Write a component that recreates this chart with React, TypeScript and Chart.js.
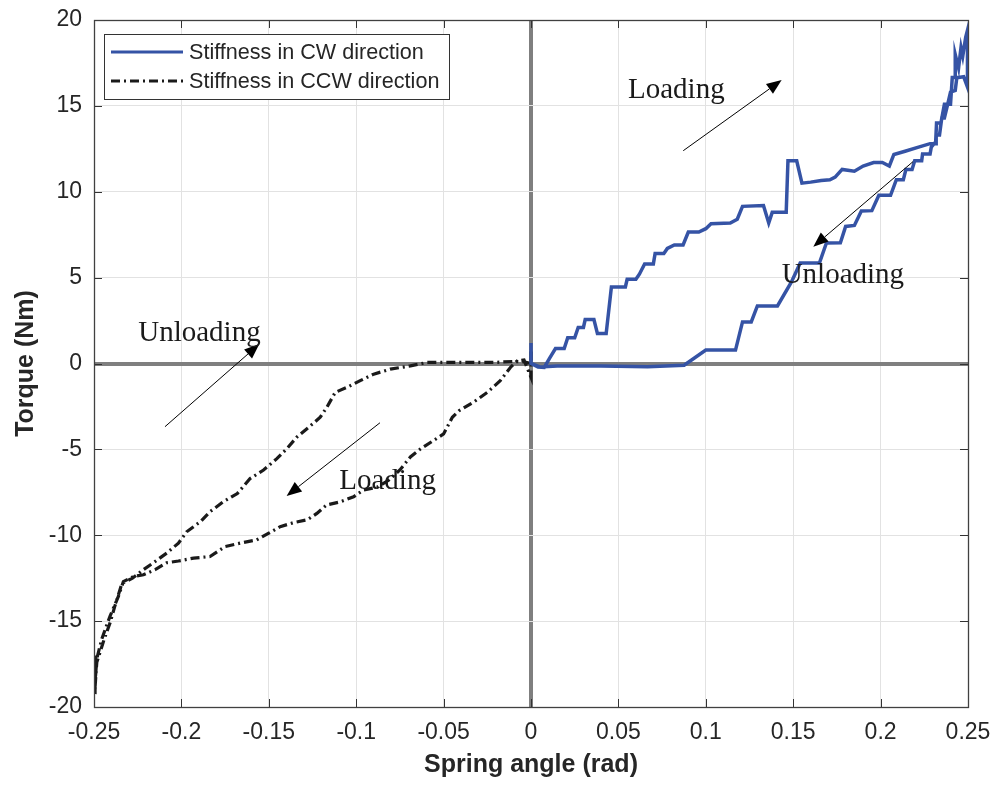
import { useEffect, useRef } from "react";
import { Chart, registerables } from "chart.js";

Chart.register(...registerables);

// ---- data ----
const cwAngle = [
  0, 0, 0.004, 0.0076, 0.0105, 0.014, 0.019, 0.021, 0.025, 0.027, 0.03, 0.031, 0.036, 0.038, 0.043,
  0.046, 0.054, 0.055, 0.06, 0.062, 0.065, 0.07, 0.071, 0.076, 0.078, 0.082, 0.087, 0.09, 0.096,
  0.1, 0.103, 0.114, 0.118, 0.121, 0.133, 0.136, 0.138, 0.146, 0.147, 0.152, 0.155, 0.16, 0.166,
  0.171, 0.174, 0.178, 0.185, 0.19, 0.196, 0.201, 0.205, 0.2076, 0.214, 0.2217, 0.2283, 0.2318,
  0.2318, 0.2337, 0.235, 0.2365, 0.2384, 0.24, 0.241, 0.2427, 0.2427, 0.2446, 0.246, 0.247, 0.2487,
  0.2497, 0.2497,
  // unloading
  0.2475, 0.2446, 0.2436, 0.2427, 0.24, 0.2384, 0.2365, 0.2345, 0.232, 0.2315, 0.229, 0.2283,
  0.224, 0.2235, 0.2195, 0.218, 0.2145, 0.213, 0.209, 0.2057, 0.199, 0.195, 0.189, 0.185, 0.18,
  0.177, 0.169, 0.165, 0.154, 0.149, 0.141, 0.1295, 0.126, 0.121, 0.117, 0.1, 0.0876, 0.0667,
  0.04, 0.015, 0.005, 0,
];
const cwTorque = [
  1.2, 0, -0.2, -0.23, 0.29, 0.87, 0.87, 1.5, 1.5, 2.1, 2.1, 2.56, 2.56, 1.74, 1.74,
  4.46, 4.46, 4.9, 4.9, 5.2, 5.8, 5.8, 6.4, 6.4, 6.7, 6.9, 6.9, 7.65, 7.65,
  7.85, 8.14, 8.18, 8.4, 9.15, 9.2, 8.18, 8.8, 8.8, 11.8, 11.8, 10.5, 10.56, 10.66,
  10.7, 10.85, 11.3, 11.2, 11.5, 11.7, 11.7, 11.5, 12.17, 12.36, 12.6, 12.8, 12.8,
  13.3, 13.3, 14.3, 14.3, 15.1, 15.1, 16.65, 16.65, 18.0, 17.2, 18.4, 17.9, 19.0,
  19.4, 16.1,
  16.7, 16.65, 16.65, 15.9, 15.8, 15.1, 15.1, 14.0, 14.0, 12.9, 12.6, 12.2,
  12.2, 11.8, 11.8, 11.3, 11.3, 10.7, 10.7, 9.79, 9.79, 8.9, 8.88, 8.04, 7.98,
  7.03, 7.02, 5.85, 5.85, 4.75, 3.35, 3.35, 2.42, 2.42, 0.78, 0.78, -0.1, -0.19,
  -0.15, -0.15, -0.2, 0,
];

const ccwAngle = [
  0, 0, -0.004, -0.008, -0.0118, -0.0176, -0.025, -0.033, -0.041, -0.045, -0.05, -0.0557, -0.063,
  -0.069, -0.075, -0.0815, -0.088, -0.096, -0.1015, -0.109, -0.117, -0.1225, -0.128, -0.136,
  -0.1435, -0.15, -0.157, -0.1664, -0.175, -0.1836, -0.193, -0.2017, -0.2084, -0.215, -0.2217,
  -0.2274, -0.2332, -0.236, -0.2408, -0.2456, -0.2484, -0.2494, -0.2494, -0.249, -0.2497,
  // unloading
  -0.2484, -0.244, -0.2408, -0.238, -0.234, -0.228, -0.2217, -0.216, -0.2084, -0.2017, -0.197,
  -0.189, -0.1836, -0.176, -0.168, -0.1607, -0.153, -0.1454, -0.1397, -0.134, -0.127, -0.1206,
  -0.1168, -0.112, -0.1053, -0.0977, -0.09, -0.0805, -0.069, -0.0595, -0.0405, -0.0214, -0.01,
  -0.004, 0,
];
const ccwTorque = [
  0.7, -0.8, 0.2, 0.15, -0.23, -1.0, -1.68, -2.26, -2.74, -3.13, -4.1, -4.48, -4.96,
  -5.44, -6.2, -6.8, -7.2, -7.37, -7.76, -8.05, -8.24, -8.73, -9.1, -9.27,
  -9.5, -9.88, -10.27, -10.46, -10.66, -11.24, -11.33, -11.5, -11.6, -12.0, -12.3,
  -12.4, -12.7, -13.55, -14.7, -16.06, -17.2, -18.6, -19.25, -17.0, -19.3,
  -17.4, -16.0, -15.1, -14.1, -12.8, -12.5, -12.0, -11.6, -11.04, -10.46, -9.8,
  -9.2, -8.63, -8.05, -7.57, -6.7, -6.2, -5.54, -4.96, -4.29, -3.7, -3.13,
  -2.55, -1.68, -1.39, -1.0, -0.62, -0.33, -0.14, 0.06, 0.06, 0.06, 0.12,
  0.1, 0,
];

const xTicks = [-0.25, -0.2, -0.15, -0.1, -0.05, 0, 0.05, 0.1, 0.15, 0.2, 0.25];
const yTicks = [-20, -15, -10, -5, 0, 5, 10, 15, 20];
const seriesLabels = ["Stiffness in CW direction", "Stiffness in CCW direction"];
const axisTitles = ["Spring angle (rad)", "Torque (Nm)"];

// annotations: text with anchor, arrow tail -> tip (data units)
const noteTexts = ["Loading", "Unloading", "Unloading", "Loading"];
const noteX = [0.0555, 0.1434, -0.2247, -0.1097];
const noteY = [15.44, 4.67, 1.33, -7.32];
const arrowFrom = [[0.0871, 12.39], [0.2185, 11.75], [-0.2094, -3.68], [-0.0864, -3.45]];
const arrowTo = [[0.1434, 16.5], [0.1615, 6.8], [-0.1554, 1.135], [-0.1398, -7.71]];

const BLUE = "#3553a5";
const BLACK = "#1a1a1a";
const TEXT = "#262626";
const SANS = "'Liberation Sans', Arial, Helvetica, sans-serif";
const SERIF = "'Liberation Serif', 'Times New Roman', Times, serif";

const overlay = {
  id: "overlay",
  afterDatasetsDraw(chart: any) {
    const { ctx, chartArea: a, scales } = chart;
    const xs = scales.x;
    const ys = scales.y;
    ctx.save();

    // inner ticks
    ctx.strokeStyle = "#333";
    ctx.lineWidth = 1;
    ctx.beginPath();
    xTicks.forEach((v) => {
      const px = Math.round(xs.getPixelForValue(v)) + 0.5;
      ctx.moveTo(px, a.bottom);
      ctx.lineTo(px, a.bottom - 8);
      ctx.moveTo(px, a.top);
      ctx.lineTo(px, a.top + 8);
    });
    yTicks.forEach((v) => {
      const py = Math.round(ys.getPixelForValue(v)) + 0.5;
      ctx.moveTo(a.left, py);
      ctx.lineTo(a.left + 8, py);
      ctx.moveTo(a.right, py);
      ctx.lineTo(a.right - 8, py);
    });
    ctx.stroke();

    // box
    ctx.strokeStyle = "#404040";
    ctx.lineWidth = 1.3;
    ctx.strokeRect(Math.round(a.left) + 0.5, Math.round(a.top) + 0.5, Math.round(a.right - a.left), Math.round(a.bottom - a.top));

    // annotations
    ctx.strokeStyle = "#000";
    ctx.fillStyle = "#000";
    ctx.lineWidth = 1;
    arrowFrom.forEach((f, i) => {
      const x0 = xs.getPixelForValue(f[0]);
      const y0 = ys.getPixelForValue(f[1]);
      const x1 = xs.getPixelForValue(arrowTo[i][0]);
      const y1 = ys.getPixelForValue(arrowTo[i][1]);
      const ang = Math.atan2(y1 - y0, x1 - x0);
      const hl = 15;
      const hw = 6;
      const bx = x1 - hl * Math.cos(ang);
      const by = y1 - hl * Math.sin(ang);
      ctx.beginPath();
      ctx.moveTo(x0, y0);
      ctx.lineTo(bx, by);
      ctx.stroke();
      ctx.beginPath();
      ctx.moveTo(x1, y1);
      ctx.lineTo(bx + hw * Math.sin(ang), by - hw * Math.cos(ang));
      ctx.lineTo(bx - hw * Math.sin(ang), by + hw * Math.cos(ang));
      ctx.closePath();
      ctx.fill();
    });
    ctx.fillStyle = "#1a1a1a";
    ctx.font = `29px ${SERIF}`;
    ctx.textAlign = "left";
    ctx.textBaseline = "alphabetic";
    noteTexts.forEach((t, i) => {
      ctx.fillText(t, xs.getPixelForValue(noteX[i]), ys.getPixelForValue(noteY[i]));
    });

    // legend
    const lx = Math.round(a.left) + 10;
    const ly = Math.round(a.top) + 14;
    const lw = 345;
    const lh = 65;
    ctx.fillStyle = "#fff";
    ctx.fillRect(lx, ly, lw, lh);
    ctx.strokeStyle = "#333";
    ctx.lineWidth = 1;
    ctx.strokeRect(lx + 0.5, ly + 0.5, lw, lh);
    const rows = [ly + 18, ly + 47];
    const styles = [
      { c: BLUE, d: [] as number[] },
      { c: BLACK, d: [9, 4, 2, 4] },
    ];
    rows.forEach((ry, i) => {
      ctx.strokeStyle = styles[i].c;
      ctx.lineWidth = 3.2;
      ctx.setLineDash(styles[i].d);
      ctx.beginPath();
      ctx.moveTo(lx + 7, ry);
      ctx.lineTo(lx + 79, ry);
      ctx.stroke();
      ctx.setLineDash([]);
      ctx.fillStyle = TEXT;
      ctx.font = `21.6px ${SANS}`;
      ctx.textBaseline = "middle";
      ctx.fillText(seriesLabels[i], lx + 85, ry + 1);
    });
    ctx.restore();
  },
};

export default function App() {
  const ref = useRef<HTMLCanvasElement | null>(null);

  useEffect(() => {
    if (!ref.current) return;
    const gridColor = (c: any) => (Math.abs(c.tick?.value ?? 1) < 1e-9 ? "#7f7f7f" : "#e2e2e2");
    const gridWidth = (c: any) => (Math.abs(c.tick?.value ?? 1) < 1e-9 ? 4 : 1);
    const chart = new Chart(ref.current, {
      type: "scatter",
      data: {
        datasets: [
          {
            label: seriesLabels[0],
            data: cwAngle.map((x, i) => ({ x, y: cwTorque[i] })),
            showLine: true,
            borderColor: BLUE,
            backgroundColor: BLUE,
            borderWidth: 3.5,
            pointRadius: 0,
            fill: false,
          },
          {
            label: seriesLabels[1],
            data: ccwAngle.map((x, i) => ({ x, y: ccwTorque[i] })),
            showLine: true,
            borderColor: BLACK,
            backgroundColor: BLACK,
            borderWidth: 3.2,
            borderDash: [9, 4, 2, 4],
            pointRadius: 0,
            fill: false,
          },
        ],
      },
      options: {
        animation: false,
        responsive: false,
        devicePixelRatio: 1,
        layout: { padding: { top: 20, right: 28, left: 0, bottom: 0 } },
        plugins: { legend: { display: false }, tooltip: { enabled: false } },
        scales: {
          x: {
            type: "linear",
            min: -0.25,
            max: 0.25,
            afterBuildTicks: (s: any) => {
              s.ticks = xTicks.map((v) => ({ value: v }));
            },
            afterFit: (s: any) => {
              s.height = 78;
              s.paddingLeft = 0;
              s.paddingRight = 0;
            },
            ticks: {
              autoSkip: false,
              maxRotation: 0,
              padding: 12,
              color: TEXT,
              font: { family: SANS, size: 23 },
              callback: (v: any) => String(Number(Number(v).toFixed(2))),
            },
            grid: { color: gridColor, lineWidth: gridWidth, drawTicks: false },
            border: { display: false },
            title: {
              display: true,
              text: axisTitles[0],
              color: TEXT,
              font: { family: SANS, size: 25, weight: "bold" },
              padding: { top: 0, bottom: 5 },
            },
          },
          y: {
            type: "linear",
            min: -20,
            max: 20,
            afterBuildTicks: (s: any) => {
              s.ticks = yTicks.map((v) => ({ value: v }));
            },
            afterFit: (s: any) => {
              s.width = 94;
              s.paddingTop = 0;
              s.paddingBottom = 0;
            },
            ticks: {
              autoSkip: false,
              padding: 12,
              color: TEXT,
              font: { family: SANS, size: 23 },
              callback: (v: any) => String(v),
            },
            grid: { color: gridColor, lineWidth: gridWidth, drawTicks: false },
            border: { display: false },
            title: {
              display: true,
              text: axisTitles[1],
              color: TEXT,
              font: { family: SANS, size: 25, weight: "bold" },
              padding: { top: 11, bottom: 0 },
            },
          },
        },
      },
      plugins: [overlay],
    } as any);
    return () => chart.destroy();
  }, []);

  return (
    <div style={{ position: "absolute", left: 0, top: 0, width: 996, height: 785, background: "#fff" }}>
      <canvas ref={ref} width={996} height={785} style={{ display: "block" }} />
    </div>
  );
}
